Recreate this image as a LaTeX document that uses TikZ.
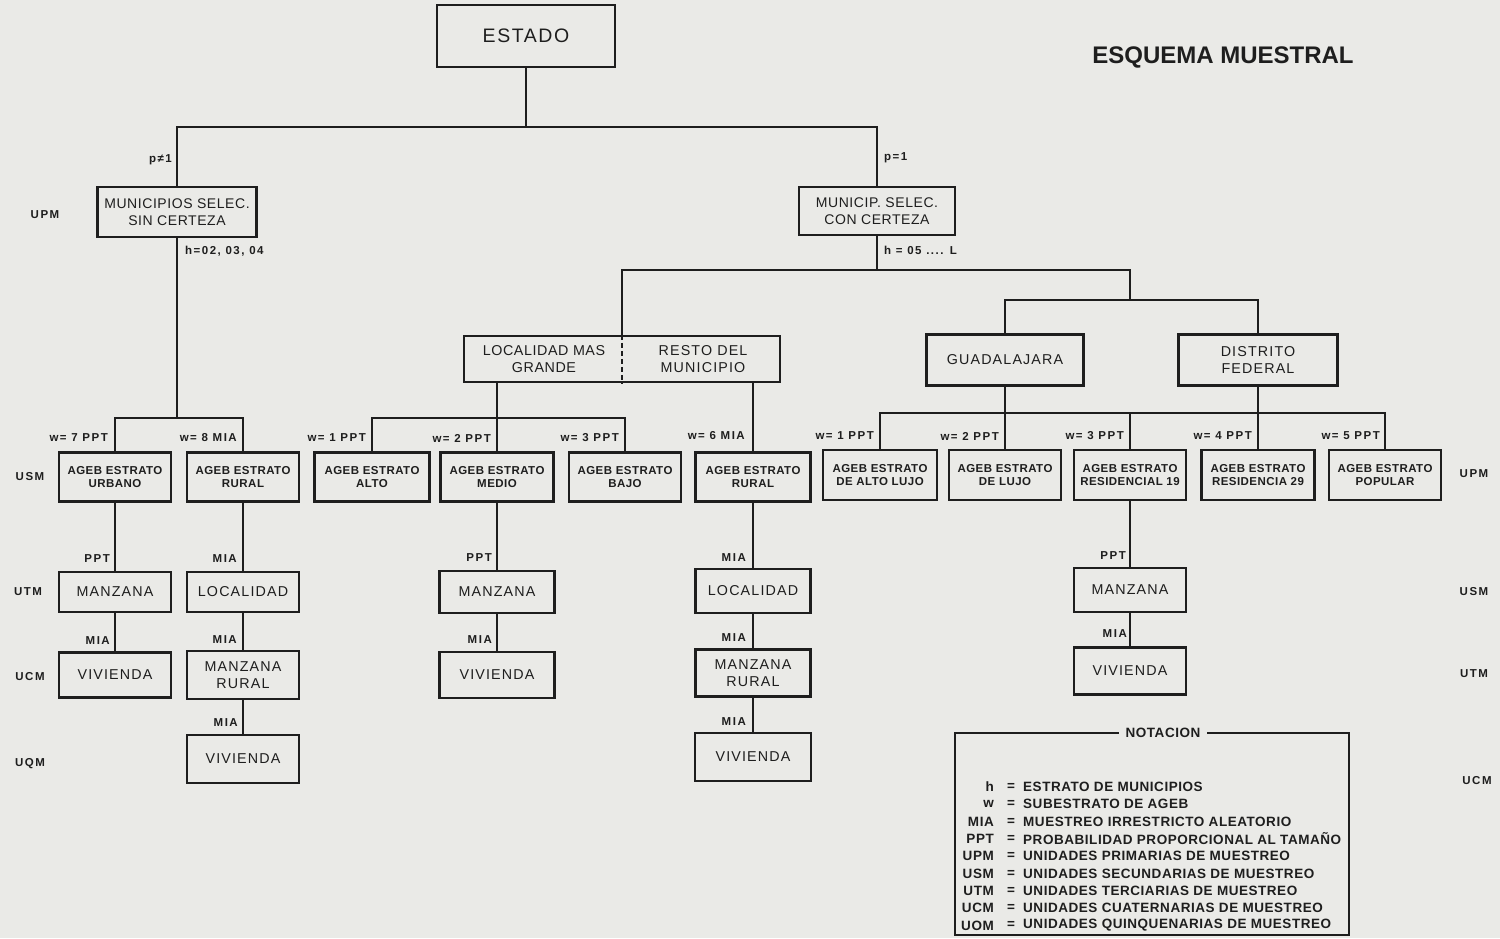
\documentclass[tikz,border=0pt]{standalone}
\usepackage{fontspec}
\setmainfont{Liberation Sans}
\newfontfamily\boxfont[LetterSpace=8]{Liberation Sans}
\newfontfamily\labfont[LetterSpace=13]{Liberation Sans}
\newfontfamily\smallfont[LetterSpace=4]{Liberation Sans}
\definecolor{paper}{RGB}{234,234,231}
\definecolor{ink}{RGB}{30,30,30}
\begin{document}
\begin{tikzpicture}[x=1pt,y=-1pt,
  every node/.style={text=ink},
  wh/.style 2 args={minimum width=#1pt, minimum height=#2pt},
  bx/.style={draw=ink, line width=2.2pt, fill=paper, inner sep=0pt, align=center, font=\boxfont\fontsize{14.3}{16.5}\selectfont},
  wbx/.style={bx, font=\smallfont\fontsize{14}{16.5}\selectfont},
  sbx/.style={bx, font=\smallfont\bfseries\fontsize{11.5}{13.5}\selectfont},
  lab/.style={font=\labfont\bfseries\fontsize{11.5}{13}\selectfont, inner sep=0pt},
  legt/.style={font=\smallfont\bfseries\fontsize{13.5}{15}\selectfont, inner sep=0pt},
  ln/.style={draw=ink, line width=2.2pt},
]
\fill[paper] (0,0) rectangle (1500,938);
\useasboundingbox (0,0) rectangle (1500,938);

% title
\node[font=\bfseries\fontsize{24}{28}\selectfont, inner sep=0pt] (title) at (1223,57) {ESQUEMA MUESTRAL};

% top levels
\node[bx, wh={178}{62}, font=\boxfont\fontsize{19.5}{23}\selectfont] (estado) at (526,36) {ESTADO};
\node[wbx, wh={159}{50}] (munsin) at (177,212) {MUNICIPIOS SELEC.\\SIN CERTEZA};
\node[wbx, wh={156}{48}] (muncon) at (877,211) {MUNICIP. SELEC.\\CON CERTEZA};

% locality box (split)
\node[bx, wh={316}{46}] (loc) at (622,359) {};
\node[font=\smallfont\fontsize{14.3}{16.5}\selectfont, align=center, inner sep=0pt] (locl) at (544,359) {LOCALIDAD MAS\\GRANDE};
\node[font=\boxfont\fontsize{14.3}{16.5}\selectfont, align=center, inner sep=0pt] (locr) at (703,359) {RESTO DEL\\MUNICIPIO};
\draw[draw=ink, line width=1.5pt, dash pattern=on 5pt off 3pt] (loc.north) -- (loc.south);

\node[bx, wh={157}{51}] (guad) at (1005,360) {GUADALAJARA};
\node[bx, wh={159}{51}] (df) at (1258,360) {DISTRITO\\FEDERAL};

% AGEB row
\node[sbx, wh={112}{49}] (urb) at (115,477) {AGEB ESTRATO\\URBANO};
\node[sbx, wh={112}{49}] (rur1) at (243,477) {AGEB ESTRATO\\RURAL};
\node[sbx, wh={115}{49}] (alto) at (372,477) {AGEB ESTRATO\\ALTO};
\node[sbx, wh={113}{49}] (medio) at (497,477) {AGEB ESTRATO\\MEDIO};
\node[sbx, wh={112}{49}] (bajo) at (625,477) {AGEB ESTRATO\\BAJO};
\node[sbx, wh={115}{49}] (rur2) at (753,477) {AGEB ESTRATO\\RURAL};
\node[sbx, wh={114}{50}] (altolujo) at (880,475) {AGEB ESTRATO\\DE ALTO LUJO};
\node[sbx, wh={112}{50}] (lujo) at (1005,475) {AGEB ESTRATO\\DE LUJO};
\node[sbx, wh={112}{50}] (res19) at (1130,475) {AGEB ESTRATO\\RESIDENCIAL 19};
\node[sbx, wh={113}{50}] (res29) at (1258,475) {AGEB ESTRATO\\RESIDENCIA 29};
\node[sbx, wh={112}{50}] (popular) at (1385,475) {AGEB ESTRATO\\POPULAR};

% lower chains
\node[bx, wh={112}{40}] (man1) at (115,592) {MANZANA};
\node[bx, wh={112}{45}] (viv1) at (115,675) {VIVIENDA};
\node[bx, wh={112}{40}] (loc1) at (243,592) {LOCALIDAD};
\node[bx, wh={112}{48}] (manr1) at (243,675) {MANZANA\\RURAL};
\node[bx, wh={112}{48}] (viv2) at (243,759) {VIVIENDA};
\node[bx, wh={115}{42}] (man2) at (497,592) {MANZANA};
\node[bx, wh={115}{46}] (viv3) at (497,675) {VIVIENDA};
\node[bx, wh={115}{44}] (loc2) at (753,591) {LOCALIDAD};
\node[bx, wh={115}{47}] (manr2) at (753,673) {MANZANA\\RURAL};
\node[bx, wh={116}{48}] (viv4) at (753,757) {VIVIENDA};
\node[bx, wh={112}{44}] (man3) at (1130,590) {MANZANA};
\node[bx, wh={112}{47}] (viv5) at (1130,671) {VIVIENDA};

% connectors
\coordinate (j1) at (526,127);
\coordinate (j2) at (177,418);
\coordinate (j3) at (877,270);
\coordinate (j4) at (1130,300);
\coordinate (j5) at (497,418);
\coordinate (j6) at (1005,413);
\draw[ln] (estado.south) -- (j1);
\draw[ln] (j1) -| (munsin.north);
\draw[ln] (j1) -| (muncon.north);
\draw[ln] (munsin.south) -- (j2);
\draw[ln] (j2) -| (urb.north);
\draw[ln] (j2) -| (rur1.north);
\draw[ln] (urb.south) -- (man1.north);
\draw[ln] (man1.south) -- (viv1.north);
\draw[ln] (rur1.south) -- (loc1.north);
\draw[ln] (loc1.south) -- (manr1.north);
\draw[ln] (manr1.south) -- (viv2.north);
\draw[ln] (muncon.south) -- (j3);
\draw[ln] (j3) -| (loc.north);
\draw[ln] (j3) -| (j4);
\draw[ln] (j4) -| (guad.north);
\draw[ln] (j4) -| (df.north);
\draw[ln] (loc.south -| j5) -- (j5);
\draw[ln] (j5) -| (alto.north);
\draw[ln] (j5) -| (bajo.north);
\draw[ln] (j5) -- (medio.north);
\draw[ln] (loc.south -| rur2.north) -- (rur2.north);
\draw[ln] (medio.south) -- (man2.north);
\draw[ln] (man2.south) -- (viv3.north);
\draw[ln] (rur2.south) -- (loc2.north);
\draw[ln] (loc2.south) -- (manr2.north);
\draw[ln] (manr2.south) -- (viv4.north);
\draw[ln] (guad.south) -- (j6);
\draw[ln] (df.south) -- (df.south |- j6);
\draw[ln] (j6) -| (altolujo.north);
\draw[ln] (j6) -| (popular.north);
\draw[ln] (j6) -- (lujo.north);
\draw[ln] (j6) -| (res19.north);
\draw[ln] (j6) -| (res29.north);
\draw[ln] (res19.south) -- (man3.north);
\draw[ln] (man3.south) -- (viv5.north);

% connector labels
\node[lab, anchor=east] (lp1) at (172,160) {p≠1};
\node[lab, anchor=west] (lh1) at (185,251) {h=02, 03, 04};
\node[lab, anchor=west] (lp2) at (884,158) {p=1};
\node[lab, anchor=west] (lh2) at (884,250) {h = 05 .... L};
\node[lab, anchor=east] (lw7) at (108,438) {w= 7 PPT};
\node[lab, anchor=east] (lw8) at (237,438) {w= 8 MIA};
\node[lab, anchor=east] (lwa1) at (366,438) {w= 1 PPT};
\node[lab, anchor=east] (lwa2) at (491,438) {w= 2 PPT};
\node[lab, anchor=east] (lwa3) at (619,438) {w= 3 PPT};
\node[lab, anchor=east] (lw6) at (745,436) {w= 6 MIA};
\node[lab, anchor=east] (lwb1) at (874,436) {w= 1 PPT};
\node[lab, anchor=east] (lwb2) at (999,436) {w= 2 PPT};
\node[lab, anchor=east] (lwb3) at (1124,436) {w= 3 PPT};
\node[lab, anchor=east] (lwb4) at (1252,436) {w= 4 PPT};
\node[lab, anchor=east] (lwb5) at (1380,436) {w= 5 PPT};
\node[lab, anchor=east] (m1) at (110,559) {PPT};
\node[lab, anchor=east] (m2) at (110,641) {MIA};
\node[lab, anchor=east] (m3) at (237,559) {MIA};
\node[lab, anchor=east] (m4) at (237,640) {MIA};
\node[lab, anchor=east] (m5) at (238,723) {MIA};
\node[lab, anchor=east] (m6) at (492,558) {PPT};
\node[lab, anchor=east] (m7) at (492,640) {MIA};
\node[lab, anchor=east] (m8) at (746,558) {MIA};
\node[lab, anchor=east] (m9) at (746,638) {MIA};
\node[lab, anchor=east] (m10) at (746,722) {MIA};
\node[lab, anchor=east] (m11) at (1126,556) {PPT};
\node[lab, anchor=east] (m12) at (1127,634) {MIA};

% level labels
\node[lab] (u1) at (45,215) {UPM};
\node[lab] (u2) at (30,477) {USM};
\node[lab] (u3) at (28,592) {UTM};
\node[lab] (u4) at (30,677) {UCM};
\node[lab] (u5) at (30,764) {UQM};
\node[lab] (r1) at (1474,474) {UPM};
\node[lab] (r2) at (1474,592) {USM};
\node[lab] (r3) at (1474,674) {UTM};
\node[lab] (r4) at (1477,781) {UCM};

% legend
\draw[draw=ink, line width=1.8pt] (955,733) rectangle (1349,935);
\node[legt, fill=paper, inner xsep=7pt, inner ysep=2pt] (nota) at (1163,733) {NOTACION};
\foreach \a/\d [count=\i] in {h/ESTRATO DE MUNICIPIOS, w/SUBESTRATO DE AGEB, MIA/MUESTREO IRRESTRICTO ALEATORIO, PPT/PROBABILIDAD PROPORCIONAL AL TAMAÑO, UPM/UNIDADES PRIMARIAS DE MUESTREO, USM/UNIDADES SECUNDARIAS DE MUESTREO, UTM/UNIDADES TERCIARIAS DE MUESTREO, UCM/UNIDADES CUATERNARIAS DE MUESTREO, UOM/UNIDADES QUINQUENARIAS DE MUESTREO}{
  \node[legt, anchor=east] (la\i) at (994,{787+(\i-1)*17.3}) {\a};
  \node[legt] (le\i) at (1011,{787+(\i-1)*17.3}) {=};
  \node[legt, anchor=west] (ld\i) at (1023,{787+(\i-1)*17.3}) {\d};
}
\end{tikzpicture}
\end{document}
